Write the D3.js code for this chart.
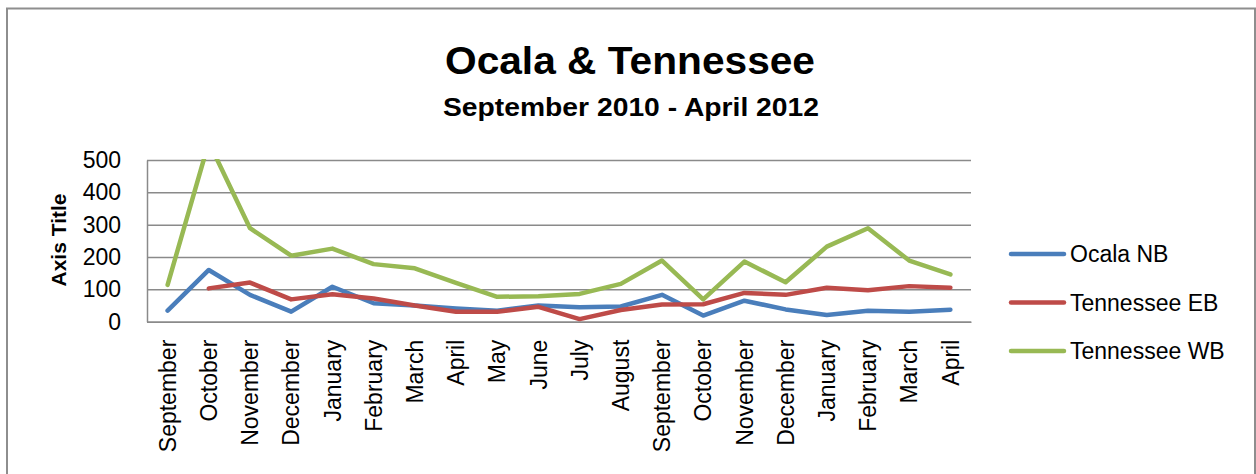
<!DOCTYPE html>
<html>
<head>
<meta charset="utf-8">
<script src="https://cdn.jsdelivr.net/npm/d3@7"></script>
<style>
  html, body { margin: 0; padding: 0; background: #fff; }
  svg { display: block; font-family: "Liberation Sans", Arial, sans-serif; }
</style>
</head>
<body>
<svg id="chart" width="1256" height="474"></svg>
<script>
// Monthly counts, September 2010 through April 2012
const months = ["September", "October", "November", "December", "January", "February",
  "March", "April", "May", "June", "July", "August", "September", "October",
  "November", "December", "January", "February", "March", "April"];

const ocalaNB = [34, 160, 83, 31, 108, 57, 50, 41, 34, 50, 45, 47, 83, 19, 65, 38, 21, 34, 31, 37];
const tennesseeEB = [null, 103, 121, 69, 85, 72, 50, 31, 31, 46, 8, 36, 53, 54, 89, 83, 105, 97, 110, 105];
const tennesseeWB = [114, 555, 289, 204, 226, 178, 165, 120, 77, 79, 86, 117, 189, 69, 186, 122, 232, 289, 189, 146];

const yTicks = [0, 100, 200, 300, 400, 500];

const seriesNames = ["Ocala NB", "Tennessee EB", "Tennessee WB"];
const seriesColors = ["#4a7ebb", "#be4b48", "#98b954"];
const series = [ocalaNB, tennesseeEB, tennesseeWB];

const svg = d3.select("#chart");

// outer chart frame
svg.append("rect")
  .attr("x", 7).attr("y", 8.5)
  .attr("width", 1248).attr("height", 480)
  .attr("fill", "#fff")
  .attr("stroke", "#8e8e8e")
  .attr("stroke-width", 2);

const plot = { left: 147, right: 971, top: 160, bottom: 321.7 };

const x = d3.scaleBand()
  .domain(months.map((m, i) => i))
  .range([plot.left, plot.right]);

const y = d3.scaleLinear()
  .domain([0, 500])
  .range([plot.bottom, plot.top]);

const cx = i => x(i) + x.bandwidth() / 2;

// titles
svg.append("text")
  .attr("x", 630).attr("y", 74)
  .attr("text-anchor", "middle")
  .attr("font-weight", "bold")
  .attr("font-size", 39)
  .attr("textLength", 370)
  .attr("lengthAdjust", "spacingAndGlyphs")
  .text("Ocala & Tennessee");

svg.append("text")
  .attr("x", 631).attr("y", 116)
  .attr("text-anchor", "middle")
  .attr("font-weight", "bold")
  .attr("font-size", 26)
  .attr("textLength", 376)
  .attr("lengthAdjust", "spacingAndGlyphs")
  .text("September 2010 - April 2012");

// horizontal gridlines
const grid = svg.append("g")
  .attr("transform", `translate(${plot.left},0)`)
  .call(d3.axisLeft(y).tickValues(yTicks).tickSize(-(plot.right - plot.left)).tickFormat(""));
grid.select(".domain").remove();
grid.selectAll("line").attr("stroke", "#8a8a8a").attr("stroke-width", 1.5);

// y axis with labels
const yAxis = svg.append("g")
  .attr("transform", `translate(${plot.left},0)`)
  .call(d3.axisLeft(y).tickValues(yTicks).tickSize(0).tickPadding(26));
yAxis.select(".domain").attr("stroke", "#8a8a8a").attr("stroke-width", 1.5);
yAxis.selectAll("text")
  .attr("font-size", 23)
  .attr("font-family", "Liberation Sans, Arial, sans-serif")
  .attr("fill", "#000");

svg.append("text")
  .attr("transform", "translate(66,240) rotate(-90)")
  .attr("text-anchor", "middle")
  .attr("font-weight", "bold")
  .attr("font-size", 21)
  .text("Axis Title");

// x axis with rotated month labels
const xAxis = svg.append("g")
  .attr("transform", `translate(0,${plot.bottom})`)
  .call(d3.axisBottom(x).tickSize(0).tickFormat(i => months[i]));
xAxis.select(".domain").attr("stroke", "#8a8a8a").attr("stroke-width", 1.5);
xAxis.selectAll("text")
  .attr("font-size", 23)
  .attr("font-family", "Liberation Sans, Arial, sans-serif")
  .attr("fill", "#000")
  .attr("text-anchor", "end")
  .attr("transform", "translate(0,18) rotate(-90)")
  .attr("x", 0)
  .attr("y", 0)
  .attr("dy", "0.36em");

// data lines, clipped to the plot area
svg.append("clipPath").attr("id", "plotClip")
  .append("rect")
  .attr("x", plot.left).attr("y", plot.top - 1)
  .attr("width", plot.right - plot.left)
  .attr("height", plot.bottom - plot.top + 6);

const line = d3.line()
  .defined(d => d != null)
  .x((d, i) => cx(i))
  .y(d => y(d));

const lines = svg.append("g").attr("clip-path", "url(#plotClip)");
series.forEach((vals, k) => {
  lines.append("path")
    .datum(vals)
    .attr("d", line)
    .attr("fill", "none")
    .attr("stroke", seriesColors[k])
    .attr("stroke-width", 4.5)
    .attr("stroke-linejoin", "round")
    .attr("stroke-linecap", "round");
});

// legend
const legend = svg.append("g");
seriesNames.forEach((name, k) => {
  const ly = 254 + k * 48.5;
  legend.append("line")
    .attr("x1", 1011).attr("x2", 1064)
    .attr("y1", ly).attr("y2", ly)
    .attr("stroke", seriesColors[k])
    .attr("stroke-width", 4.5)
    .attr("stroke-linecap", "round");
  legend.append("text")
    .attr("x", 1070).attr("y", ly)
    .attr("dy", "0.36em")
    .attr("font-size", 23)
    .text(name);
});
</script>
</body>
</html>
